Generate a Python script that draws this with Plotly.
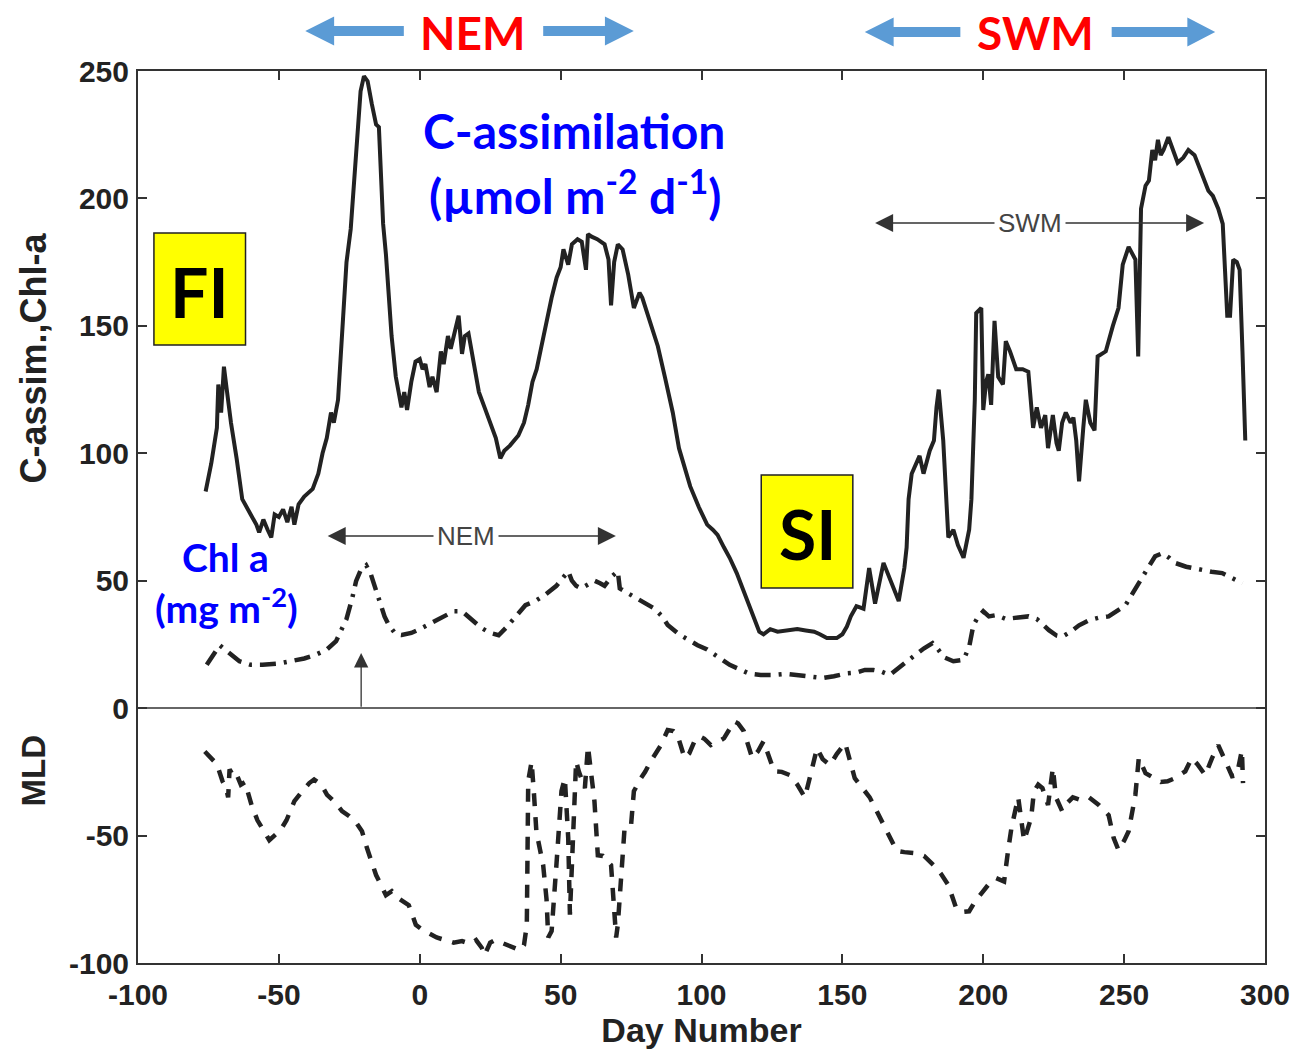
import plotly.graph_objects as go

# ---------------- data ----------------
cassim_day = [-76, -74, -72, -71.5, -70.5, -69.5, -68.5, -67, -65, -63, -60, -58, -57, -55.5, -54, -52.7, -51.5, -50,
              -48.5, -47, -45.5, -44.5, -43, -41, -38, -36, -34.5, -33, -31.5, -30.5, -29, -27.5, -26, -24.5, -23, -22,
              -21, -19.8, -18.5, -17, -15.5, -14.5, -13, -12, -10, -8.5, -6.5, -5.5, -4.5, -3, -1.5, 0, 1, 2, 3.5, 4.5,
              6, 7.5, 8.5, 10, 11, 12.5, 13.8, 15, 16, 17.3, 19, 21, 23, 25, 27, 28.6, 30, 32, 35, 37, 38.5, 40, 41.5,
              43, 45, 46.8, 48.6, 50, 51, 52.7, 54, 56, 57.5, 59, 59.7, 61, 63, 65.6, 67, 67.9, 69, 70.3, 72, 74, 76,
              78, 79, 82, 84.5, 87, 89.8, 92, 94, 96, 99, 102, 104, 105.7, 108, 110, 112.5, 115, 117.5, 120.5, 122,
              124.4, 127, 130, 134, 137, 140, 142, 144.5, 148, 150, 151.6, 153, 155, 157.5, 159.5, 161.6, 164.6, 166.8,
              169, 170, 172, 172.8, 173.5, 174.6, 177.4, 178.8, 181, 182.5, 183.4, 184.2, 185.8, 186.5, 187.6, 189.4,
              191, 193, 195, 195.8, 197, 197.5, 199.3, 200, 201, 201.8, 202.8, 204, 205.3, 207, 208, 209.5, 211.7, 214,
              216, 217.7, 219, 220.5, 222, 223, 224.7, 226, 226.8, 228, 229.3, 231, 232, 233, 234, 235.5, 236.4, 238,
              239.5, 240.6, 243.5, 246, 248, 249.5, 251.6, 254, 255, 256, 257.6, 258.8, 260, 261, 262, 263, 264, 265.7,
              267, 269, 271, 272.8, 275, 277.7, 279.9, 281.5, 283.4, 285, 286, 286.6, 287.6, 288.7, 290, 291, 292, 293]
cassim_val = [85, 96, 110, 127, 116, 134, 125, 112, 98, 82, 76, 72, 69, 74, 70, 67, 76, 75,
              78, 73, 79, 72, 80, 83, 86, 92, 100, 106, 116, 112, 121, 150, 175, 188, 210, 225,
              242, 248, 246, 237, 229, 228, 190, 178, 146, 130, 118, 124, 117, 128, 136, 137, 133, 135, 126, 130,
              124, 140, 135, 146, 141, 148, 154, 139, 146, 147, 136, 124, 118, 112, 106, 98, 101, 103, 107, 112, 119, 128, 133,
              141, 152, 161, 169, 173, 180, 174, 182, 184, 183, 172, 186, 185, 184, 182, 176, 158, 175, 182, 180, 170, 157,
              163, 161, 151, 142, 130, 116, 102, 94, 87, 79, 72, 70, 68, 63, 59, 53, 46, 39, 30, 29,
              31, 30, 30.5, 31, 30.5, 30, 29, 27.5, 27.5, 29, 32, 36, 40, 39, 55, 41, 57, 51,
              44, 42, 55, 63, 82, 92, 99, 92, 101, 105, 118, 125, 105, 90, 67, 70,
              64, 59, 70, 82, 121, 155, 157, 117, 128, 131, 119, 152, 130, 127, 144, 140, 133, 133,
              132, 110, 118, 110, 115, 102, 115, 104, 101, 112, 116, 112, 114, 105, 89, 110, 121, 112,
              109, 138, 140, 150, 157, 174, 181, 176, 138, 196, 205, 207, 219, 215, 223, 217, 219, 224,
              220, 214, 216, 219, 217, 209, 203, 201, 196, 190, 170, 154, 154, 176, 175, 172, 140, 105]

chl_day = [-75.6, -73, -71, -68, -64, -60, -55.8, -50, -46, -41, -36.8, -33, -29.7, -27.5, -26, -24, -22.6, -21, -19,
           -17.5, -16, -14.5, -12.5, -11, -8.5, -6.4, -3, 0.7, 5, 9, 12, 15, 18, 22, 25, 28, 31, 34, 37.5, 41, 44.5,
           48.5, 50.5, 52.7, 54, 55.5, 57.3, 60, 62, 64, 65.6, 67, 68.5, 70.3, 71, 74, 77.4, 80, 83.4, 86, 88, 92, 95,
           98.6, 102, 106, 110, 114, 117, 121, 125, 130, 134, 138, 143, 147, 151.6, 155, 158, 161, 163.5, 166.8, 169,
           172.8, 176, 179, 182, 184, 186, 189.4, 193, 195, 196.5, 198, 200, 202, 204.6, 208, 212, 216, 219, 221,
           223.3, 226, 228, 231, 234, 237.5, 241, 244.5, 248, 250.5, 253, 256.5, 259, 261, 263.6, 266, 268, 272,
           277.7, 281, 284.8, 288, 292]
chl_val = [17, 21, 24.7, 22, 18.4, 17, 17, 17.5, 18.4, 19.5, 21, 23, 26.3, 31, 35, 43, 49.8, 54, 56,
           53, 48, 43, 36, 32.6, 29, 28.7, 29.5, 31.4, 34, 36.5, 38, 38, 35, 31.4, 29.5, 28.6, 32, 36, 40.4, 42, 44.5,
           48, 51, 53.7, 50, 48, 47, 48.5, 50, 49, 48, 50, 52, 53.7, 47, 45, 43, 41, 39, 36, 32.6, 29, 27,
           24.7, 23, 20, 17, 15, 13.5, 13, 13, 13.5, 13, 12.5, 11.8, 12.5, 13.7, 14, 15, 15, 14.5, 13, 15,
           18.4, 21, 23.5, 25.5, 23, 20, 18.4, 19, 24, 32.6, 35.5, 38, 36, 36.5, 35, 35.5, 36, 35, 33,
           30.6, 28.5, 28, 30, 32.5, 34.5, 35.5, 36, 38.5, 40.4, 45, 51, 56, 59.6, 60.8, 59, 57, 55.5,
           54, 53.5, 53, 51, 49]

mld_day = [-76.3, -73.5, -72, -70, -68.8, -68, -67.5, -66, -65, -63.5, -62, -61, -59.7, -57.6, -55.5, -53.4, -51.6,
           -49.5, -47.3, -46, -44.5, -42, -39.2, -37.5, -35, -32.9, -30, -27.6, -25, -22.5, -20.5, -18.7, -17, -15.5,
           -13.5, -12, -9.9, -7, -3.9, -1.4, 1, 3.2, 6, 9, 12, 15, 18, 20, 22, 23, 25, 26.7, 29, 32, 35.6, 37, 38,
           38.5, 39.7, 40.5, 41.4, 43.8, 45, 45.6, 46.8, 48.5, 50.3, 51.5, 52.7, 53.3, 54.4, 55.5, 56.5, 57.5, 58.6,
           59.7, 61, 62, 63.2, 65, 67.9, 69.7, 70.3, 72, 72.7, 75, 76, 78.5, 80, 82, 85.6, 88, 90, 91.5, 94, 95.7,
           97.5, 99.3, 101, 103.3, 105.5, 108, 110, 111.6, 113, 115, 118, 120, 122, 125.8, 128.5, 131.4, 134, 136.7,
           138.5, 141, 143, 145.6, 148, 151, 154.4, 157, 159.7, 162, 164.7, 167, 169.3, 172, 176.3, 179, 182.3, 185,
           187.6, 190.4, 192.5, 195, 197, 200, 202, 204.6, 207.4, 208.8, 210, 212.4, 213.5, 214.5, 217, 218, 219.5,
           221, 223, 224.7, 225.8, 228, 230, 231.8, 234.5, 237.5, 241, 244.5, 246.3, 248, 250, 251.6, 254, 255.2,
           257.6, 261, 263, 265.4, 268, 271.7, 274, 276, 278.8, 281.2, 283.4, 286.6, 288.3, 290, 291.8, 292.2]
mld_val = [-17, -20.4, -22, -28.7, -31, -35, -24, -27, -26, -30, -29, -33, -38, -44, -48, -51.8, -50,
           -48, -44, -40, -36.5, -33, -29.4, -28, -30, -34, -37, -40.4, -42.4, -45, -48.3, -55, -60, -65.5,
           -70, -73.4, -71.8, -75, -77.3, -85, -87, -88.3, -90, -91, -92, -91.4, -92.5, -91, -94, -97, -92, -91, -92, -93, -95, -93, -85,
           -28.6, -21, -33, -48.5, -61.6, -75, -90, -87.5, -61.6, -32.6, -27.5, -51, -81, -48.3, -20.8, -25, -28, -31.4,
           -15, -26, -36.5, -57.7, -58, -61.6, -90, -85, -60, -47, -45.9, -32.6, -27.5, -25, -20.8, -14.5, -8.6, -9, -10.6, -19.6, -17.7,
           -13, -11, -12, -14.5, -13.5, -11.8, -8, -5.2, -6, -9, -19.6, -17, -13, -24.8, -25, -26.3, -30, -35,
           -27, -15.7, -20, -22.4, -18, -13.7, -27.5, -31, -35, -40, -46, -51, -56, -56.5, -57, -58, -61.5, -65,
           -69.4, -78.5, -80, -79.7, -76, -71.8, -69, -66.7, -68, -56, -47, -35, -44, -52, -43, -32.6, -30,
           -31.4, -38, -23.5, -35, -40.4, -37, -35, -36, -35, -38, -42, -51, -55.7, -52, -48.3, -34, -19.6,
           -25.5, -27.5, -29, -28.7, -27.5, -24.8, -19.6, -22, -26.3, -19.6, -14.5, -22.4, -26.7, -26.3, -16.5, -29.4]

x_ticks = [-100, -50, 0, 50, 100, 150, 200, 250, 300]
x_labels = ["-100", "-50", "0", "50", "100", "150", "200", "250", "300"]
y_ticks = [-100, -50, 0, 50, 100, 150, 200, 250]
y_labels = ["-100", "-50", "0", "50", "100", "150", "200", "250"]

# ---------------- layout helpers ----------------
W, H = 1302, 1051
L, R, T, B = 138, 1270, 71, 963


def pxx(p):
    return (p - L) / (R - L)


def pxy(p):
    return (B - p) / (B - T)


INK = "#222222"
fig = go.Figure()
fig.add_trace(go.Scatter(x=cassim_day, y=cassim_val, mode="lines",
                         line=dict(color=INK, width=4), showlegend=False))
fig.add_trace(go.Scatter(x=chl_day, y=chl_val, mode="lines",
                         line=dict(color=INK, width=4.5, dash="16px,8px,3px,8px"), showlegend=False))
fig.add_trace(go.Scatter(x=mld_day, y=mld_val, mode="lines",
                         line=dict(color=INK, width=4.5, dash="13px,11px"), showlegend=False))

tickfont = dict(family="Liberation Sans, Arial", size=30, color=INK, weight="bold")
fig.update_xaxes(range=[-100, 300], tickvals=x_ticks, ticktext=x_labels, ticks="inside", ticklen=9,
                 tickwidth=1.5, tickcolor="#333", showline=True, linecolor="#333", linewidth=2, mirror="ticks",
                 showgrid=False, zeroline=False, tickfont=tickfont, ticklabelstandoff=4,
                 title=dict(text="Day Number", font=dict(family="Liberation Sans, Arial", size=34,
                                                          color=INK, weight="bold"), standoff=2))
fig.update_yaxes(range=[-100, 250], tickvals=y_ticks, ticktext=y_labels, ticks="inside", ticklen=9,
                 tickwidth=1.5, tickcolor="#333", showline=True, linecolor="#333", linewidth=2, mirror="ticks",
                 showgrid=False, zeroline=True, zerolinecolor="#666", zerolinewidth=2,
                 tickfont=tickfont, ticklabelstandoff=1)

ann = []
ann.append(dict(x=pxx(33), y=pxy(358), xref="paper", yref="paper", text="C-assim.,Chl-a",
                textangle=-90, showarrow=False,
                font=dict(family="Liberation Sans, Arial", size=36, color=INK, weight="bold"),
                xanchor="center", yanchor="middle"))
ann.append(dict(x=pxx(33), y=pxy(771), xref="paper", yref="paper", text="MLD",
                textangle=-90, showarrow=False,
                font=dict(family="Liberation Sans, Arial", size=33, color=INK, weight="bold"),
                xanchor="center", yanchor="middle"))

calib = "Lato, Open Sans, sans-serif"
red = dict(family=calib, size=46, color="#FF0000", weight="bold")
ann.append(dict(x=pxx(474), y=pxy(33), xref="paper", yref="paper", text="NEM", showarrow=False,
                font=red, xanchor="center", yanchor="middle"))
ann.append(dict(x=pxx(1039), y=pxy(33), xref="paper", yref="paper", text="SWM", showarrow=False,
                font=red, xanchor="center", yanchor="middle"))

blue = dict(family=calib, size=48, color="#0000FF", weight="bold")
ann.append(dict(x=pxx(576), y=pxy(131), xref="paper", yref="paper", text="C-assimilation",
                showarrow=False, font=blue, xanchor="center", yanchor="middle"))
ann.append(dict(x=pxx(577), y=pxy(192), xref="paper", yref="paper",
                text="(µmol m<sup>-2</sup> d<sup>-1</sup>)",
                showarrow=False, font=blue, xanchor="center", yanchor="middle"))
blue2 = dict(family=calib, size=39, color="#0000FF", weight="bold")
ann.append(dict(x=pxx(226), y=pxy(557), xref="paper", yref="paper", text="Chl a",
                showarrow=False, font=blue2, xanchor="center", yanchor="middle"))
ann.append(dict(x=pxx(227), y=pxy(605), xref="paper", yref="paper", text="(mg m<sup>-2</sup>)",
                showarrow=False, font=blue2, xanchor="center", yanchor="middle"))

box = dict(family=calib, size=68, color="#000000", weight="bold")
ann.append(dict(x=pxx(200), y=pxy(291), xref="paper", yref="paper", text="FI",
                showarrow=False, font=box, xanchor="center", yanchor="middle"))
ann.append(dict(x=pxx(810), y=pxy(533), xref="paper", yref="paper", text="SI",
                showarrow=False, font=box, xanchor="center", yanchor="middle"))

# in-plot double arrows (MATLAB annotation style)
grey = "#333333"
ann.append(dict(x=69.6, y=67.5, ax=-33.2, ay=67.5, xref="x", yref="y", axref="x", ayref="y",
                text="", showarrow=True, arrowhead=2, arrowsize=2.4, arrowwidth=1.5,
                arrowcolor=grey, arrowside="end+start"))
ann.append(dict(x=16.5, y=67.5, xref="x", yref="y", text="NEM", showarrow=False,
                font=dict(family="Liberation Sans, Arial", size=26, color="#444"),
                bgcolor="white", borderpad=3))
ann.append(dict(x=278.4, y=190.4, ax=161.1, ay=190.4, xref="x", yref="y", axref="x", ayref="y",
                text="", showarrow=True, arrowhead=2, arrowsize=2.4, arrowwidth=1.5,
                arrowcolor=grey, arrowside="end+start"))
ann.append(dict(x=216.5, y=190.4, xref="x", yref="y", text="SWM", showarrow=False,
                font=dict(family="Liberation Sans, Arial", size=26, color="#444"),
                bgcolor="white", borderpad=3))
ann.append(dict(x=-20.8, y=21.6, ax=-20.8, ay=0, xref="x", yref="y", axref="x", ayref="y",
                text="", showarrow=True, arrowhead=2, arrowsize=2.2, arrowwidth=1.3,
                arrowcolor=grey))

shapes = []
# yellow boxes
for (x0, y0, x1, y1) in [(154, 233, 246, 345), (764, 475, 856, 588)]:
    shapes.append(dict(type="rect", xref="paper", yref="paper", x0=pxx(x0), x1=pxx(x1),
                       y0=pxy(y1), y1=pxy(y0), fillcolor="#FFFF00",
                       line=dict(color="#222", width=1.5), layer="below"))


def arrow_path(tail, base, tip, yc, sh=5, hh=14.5):
    pts = [(tip, yc), (base, yc - hh), (base, yc - sh), (tail, yc - sh),
           (tail, yc + sh), (base, yc + sh), (base, yc + hh)]
    return "M " + " L ".join(f"{pxx(a):.5f},{pxy(b):.5f}" for a, b in pts) + " Z"


for (tail, base, tip, yc) in [(405, 335, 306, 31), (545, 607, 636, 31),
                               (964, 897, 868, 32), (1116, 1192, 1220, 32)]:
    shapes.append(dict(type="path", xref="paper", yref="paper", path=arrow_path(tail, base, tip, yc),
                       fillcolor="#5B9BD5", line=dict(width=0)))

fig.update_layout(width=W, height=H, margin=dict(l=L, r=W - R, t=T, b=H - B),
                  plot_bgcolor="white", paper_bgcolor="white",
                  annotations=ann, shapes=shapes, showlegend=False)

fig.write_html("out.html")
